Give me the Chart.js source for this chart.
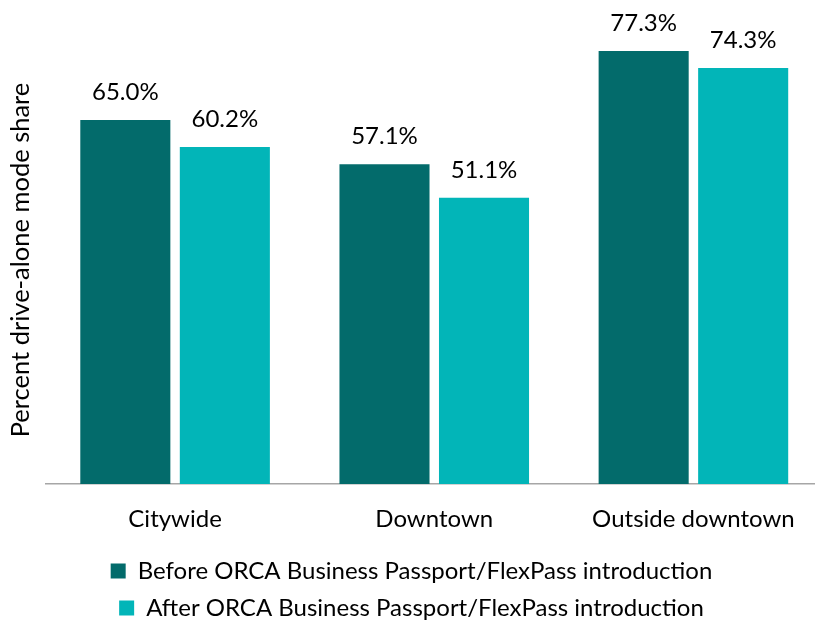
<!DOCTYPE html>
<html><head><meta charset="utf-8">
<script src="https://cdn.jsdelivr.net/npm/chart.js@4.4.0/dist/chart.umd.min.js"></script>
<style>
html,body{margin:0;padding:0;overflow:hidden;background:#fff;width:815px;height:621px}
#wrap{width:823px;height:630px;position:relative}
</style></head>
<body><div id="wrap"><canvas id="c" width="823" height="630"></canvas></div>
<script>
const categories = ['Citywide', 'Downtown', 'Outside downtown'];
const seriesNames = ['Before ORCA Business Passport/FlexPass introduction', 'After ORCA Business Passport/FlexPass introduction'];
const beforeValues = [65.0, 57.1, 77.3];
const afterValues = [60.2, 51.1, 74.3];
const yAxisTitle = 'Percent drive-alone mode share';
const yMax = 80;

const FONT = 'Lato';
const FS = 24;
const COLORS = ['#036B6B', '#02B5B8'];

const valueLabels = {
  id: 'valueLabels',
  afterDatasetsDraw(chart) {
    const ctx = chart.ctx;
    ctx.save();
    ctx.font = FS + 'px ' + FONT;
    ctx.fillStyle = '#000';
    ctx.textAlign = 'center';
    ctx.textBaseline = 'alphabetic';
    chart.data.datasets.forEach((ds, i) => {
      chart.getDatasetMeta(i).data.forEach((bar, j) => {
        ctx.fillText(ds.data[j].toFixed(1) + '%', bar.x, bar.y - 20);
      });
    });
    ctx.restore();
  }
};

new Chart(document.getElementById('c'), {
  type: 'bar',
  data: {
    labels: categories,
    datasets: [
      { label: seriesNames[0], data: beforeValues, backgroundColor: COLORS[0] },
      { label: seriesNames[1], data: afterValues, backgroundColor: COLORS[1] }
    ]
  },
  options: {
    responsive: false,
    animation: false,
    categoryPercentage: 0.768,
    barPercentage: 0.905,
    layout: { padding: { top: 36, left: 0, right: 0, bottom: 0 } },
    plugins: {
      legend: {
        position: 'bottom',
        align: 'center',
        labels: {
          font: { family: FONT, size: FS },
          color: '#000',
          boxWidth: 15,
          boxHeight: 15,
          padding: 13
        }
      },
      tooltip: { enabled: false }
    },
    scales: {
      x: {
        grid: { display: false, drawTicks: false },
        border: { display: true, color: '#A6A6A6', width: 1.5 },
        ticks: { font: { family: FONT, size: FS }, color: '#000', padding: 21 },
        afterFit(scale) { scale.height = 62; }
      },
      y: {
        min: 0, max: yMax,
        grid: { display: false, drawTicks: false },
        border: { display: false },
        ticks: { display: false },
        title: {
          display: true, text: yAxisTitle, color: '#000',
          font: { family: FONT, size: 25.5 }, padding: { top: 5, bottom: 4 }
        },
        afterFit(scale) { scale.width = 45.5; }
      }
    }
  },
  plugins: [valueLabels]
});
</script></body></html>
